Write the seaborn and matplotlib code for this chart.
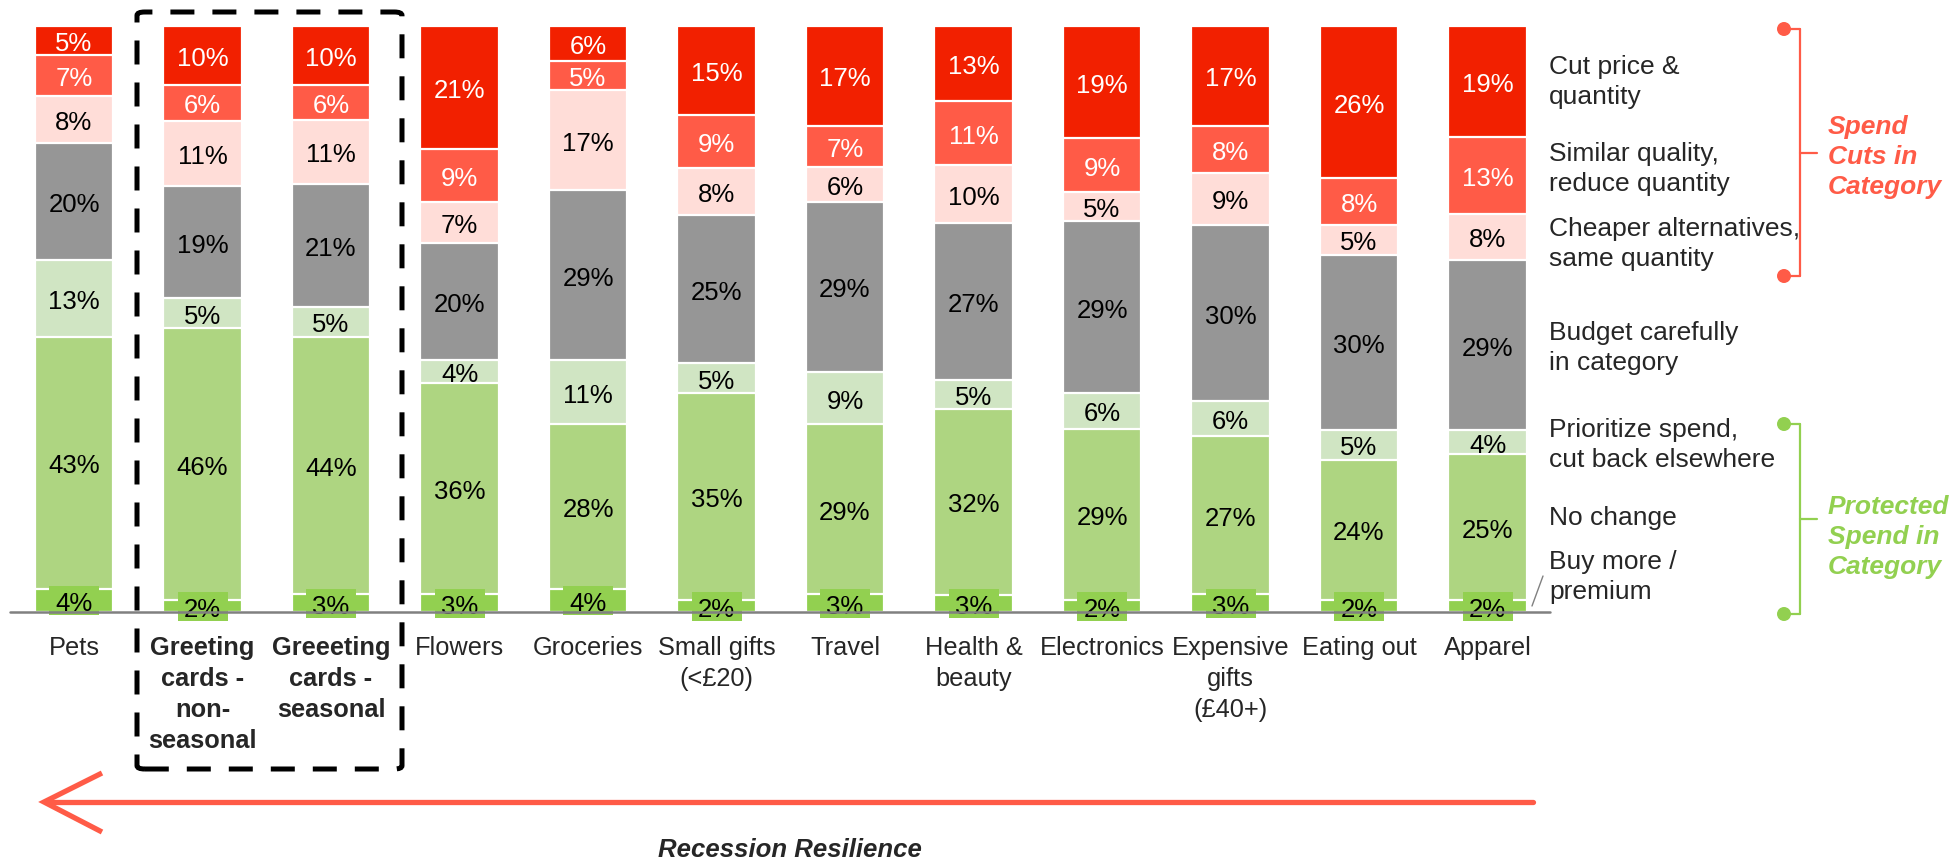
import matplotlib
matplotlib.use("Agg")
import matplotlib.pyplot as plt
import numpy as np
import pandas as pd
import seaborn as sns
from matplotlib.patches import FancyBboxPatch, Rectangle, Circle
from matplotlib.lines import Line2D

# ---- data -------------------------------------------------------------
categories = [
    "Pets",
    "Greeting\ncards -\nnon-\nseasonal",
    "Greeeting\ncards -\nseasonal",
    "Flowers",
    "Groceries",
    "Small gifts\n(<£20)",
    "Travel",
    "Health &\nbeauty",
    "Electronics",
    "Expensive\ngifts\n(£40+)",
    "Eating out",
    "Apparel",
]
highlighted = ["Greeting\ncards -\nnon-\nseasonal", "Greeeting\ncards -\nseasonal"]

buy_more = [4, 2, 3, 3, 4, 2, 3, 3, 2, 3, 2, 2]
no_change = [43, 46, 44, 36, 28, 35, 29, 32, 29, 27, 24, 25]
prioritize = [13, 5, 5, 4, 11, 5, 9, 5, 6, 6, 5, 4]
budget = [20, 19, 21, 20, 29, 25, 29, 27, 29, 30, 30, 29]
cheaper = [8, 11, 11, 7, 17, 8, 6, 10, 5, 9, 5, 8]
similar = [7, 6, 6, 9, 5, 9, 7, 11, 9, 8, 8, 13]
cut_price = [5, 10, 10, 21, 6, 15, 17, 13, 19, 17, 26, 19]

layer_names = [
    "Buy more /\npremium",
    "No change",
    "Prioritize spend,\ncut back elsewhere",
    "Budget carefully\nin category",
    "Cheaper alternatives,\nsame quantity",
    "Similar quality,\nreduce quantity",
    "Cut price &\nquantity",
]
layer_values = [buy_more, no_change, prioritize, budget, cheaper, similar, cut_price]
layer_colors = ["#92D050", "#AED581", "#D0E5C3", "#969696", "#FFDDD8", "#FF5B47", "#F22000"]
label_colors = ["black", "black", "black", "black", "black", "white", "white"]

RED = "#FF5B47"
GREEN = "#92D050"

# ---- figure / geometry ------------------------------------------------
W, H = 1951, 862
sns.set_theme(style="white")
plt.rcParams["font.family"] = ["Liberation Sans", "DejaVu Sans"]

fig = plt.figure(figsize=(W / 100, H / 100), dpi=100)
ax = fig.add_axes([0, 0, 1, 1])

# pixel layout: first bar centre, bar pitch, baseline and 100% line
x_first, x_pitch = 74, 128.5
y_base, y_full = 613, 27
px_per_unit = (y_base - y_full) / 100.0

xlim = (-x_first / x_pitch, (W - x_first) / x_pitch)
ylim = (-(H - y_base) / px_per_unit, y_base / px_per_unit)


def fx(px):
    return px / W


def fy(py):
    return 1 - py / H


# ---- 100% stacked bars (cumulative overlay) ---------------------------
vals = np.array(layer_values, dtype=float)
shares = vals / vals.sum(axis=0) * 100  # each bar spans the full 100%
tops = shares.cumsum(axis=0)
bottoms = tops - shares

records = []
for li, name in enumerate(layer_names):
    for ci, cat in enumerate(categories):
        records.append({"category": cat, "layer": name, "top": tops[li, ci]})
df = pd.DataFrame(records)

sns.barplot(
    data=df, x="category", y="top", hue="layer",
    order=categories, hue_order=layer_names[::-1],
    palette=dict(zip(layer_names, layer_colors)),
    dodge=False, width=0.61, saturation=1, errorbar=None,
    edgecolor="white", linewidth=1.6, legend=False, ax=ax, zorder=2,
)

ax.set_xlim(*xlim)
ax.set_ylim(*ylim)
ax.set_axis_off()

# ---- value labels -----------------------------------------------------
box_w = 50 / x_pitch
box_h = 29 / px_per_unit
for li in range(len(layer_names)):
    for ci in range(len(categories)):
        yc = bottoms[li, ci] + shares[li, ci] / 2
        if li == 0:
            ax.add_patch(Rectangle((ci - box_w / 2, yc - box_h / 2), box_w, box_h,
                                   facecolor=GREEN, edgecolor="none", zorder=4))
        ax.text(ci, yc, f"{int(vals[li, ci])}%", ha="center", va="center_baseline",
                fontsize=18.5, color=label_colors[li], zorder=5)

# ---- baseline ---------------------------------------------------------
fig.add_artist(Line2D([fx(10), fx(1550)], [fy(y_base), fy(y_base)],
                      color="#808080", lw=1.8, zorder=3))
fig.add_artist(Line2D([fx(1532), fx(1543)], [fy(607), fy(577)],
                      color="#808080", lw=1.0))

# ---- category labels --------------------------------------------------
for ci, cat in enumerate(categories):
    ax.text(ci, -(636 - y_base) / px_per_unit, cat, ha="center", va="top",
            fontsize=18.3, linespacing=1.36,
            fontweight="bold" if cat in highlighted else "normal")

# ---- dashed highlight box ---------------------------------------------
fig.add_artist(FancyBboxPatch(
    (fx(137), fy(770)), fx(402) - fx(137), fy(13) - fy(770),
    boxstyle="round,pad=0,rounding_size=0.004",
    facecolor="none", edgecolor="black", lw=3.6,
    linestyle=(0, (4.8, 3.6)), zorder=6))

# ---- category legend text ---------------------------------------------
legend_y = [577, 518, 445, 348, 244, 169, 82]
for name, py in zip(layer_names, legend_y):
    fig.text(fx(1549), fy(py), name, ha="left", va="center",
             fontsize=19, linespacing=1.3)


# ---- brackets ---------------------------------------------------------
def bracket(y_top, y_bot, color, label, label_y):
    x_dot, x_line, x_tick = 1784, 1800, 1817
    lw = 1.6
    fig.add_artist(Line2D([fx(x_line)] * 2, [fy(y_top), fy(y_bot)], color=color, lw=lw))
    for yy in (y_top, y_bot):
        fig.add_artist(Line2D([fx(x_dot), fx(x_line)], [fy(yy)] * 2, color=color, lw=lw))
        fig.add_artist(Circle((x_dot, H - yy), 7, transform=None,
                              facecolor=color, edgecolor="none"))
    ym = (y_top + y_bot) / 2
    fig.add_artist(Line2D([fx(x_line), fx(x_tick)], [fy(ym)] * 2, color=color, lw=lw))
    fig.text(fx(1828), fy(label_y), label, ha="left", va="center", fontsize=19,
             fontweight="bold", fontstyle="italic", color=color, linespacing=1.32)


bracket(30, 277, RED, "Spend\nCuts in\nCategory", 157)
bracket(425, 615, GREEN, "Protected\nSpend in\nCategory", 537)

# ---- recession resilience arrow ---------------------------------------
arrow_y = 803
fig.add_artist(Line2D([fx(1533), fx(46)], [fy(arrow_y)] * 2, color=RED, lw=3.8,
                      solid_capstyle="round"))
fig.add_artist(Line2D([fx(102), fx(44), fx(102)], [fy(774), fy(arrow_y), fy(833)],
                      color=RED, lw=3.8, solid_joinstyle="miter", solid_capstyle="butt"))
fig.text(fx(790), fy(850), "Recession Resilience", ha="center", va="center",
         fontsize=18.5, fontweight="bold", fontstyle="italic")

fig.savefig("out.png", dpi=100, facecolor="white")
